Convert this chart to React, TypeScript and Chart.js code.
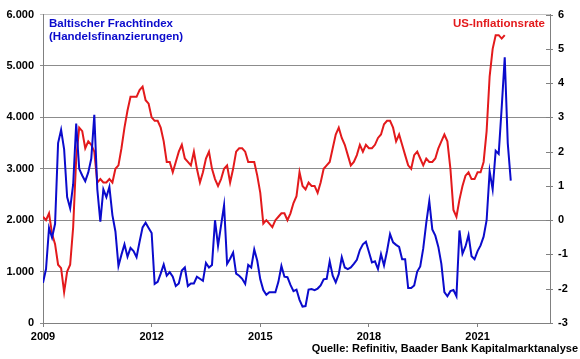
import React, { useEffect, useRef } from "react";
import { Chart, registerables } from "chart.js";

Chart.register(...registerables);

// Month index 0 = end of Dec 2008 (start of 2009), monthly steps
const START_YEAR = 2009;
const MONTH_SPAN = 168; // 2009 .. 2023
const yearTicks = [2009, 2012, 2015, 2018, 2021];

// Baltischer Frachtindex (left axis)
const bdi = [
  780, 1050, 1850, 1660, 1930, 3500, 3760, 3380, 2450, 2230,
  2700, 3880, 3000, 2870, 2760, 2930, 3200, 4050, 2600, 1970,
  2600, 2450, 2650, 2100, 1780, 1110, 1330, 1530, 1290, 1460,
  1400, 1280, 1580, 1860, 1950, 1850, 1750, 760, 800, 960,
  1140, 920, 990, 900, 720, 770, 1020, 1080, 720, 770,
  770, 900, 860, 820, 1170, 1080, 1130, 2000, 1500, 1900,
  2290, 1150, 1250, 1370, 960, 920, 860, 760, 1130, 1080,
  1430, 1210, 850, 640, 550, 600, 600, 600, 800, 1110,
  900, 890, 740, 620, 650, 450, 320, 330, 650, 660,
  640, 670, 730, 850, 860, 1200, 920, 790, 950, 1280,
  1080, 1050, 1080, 1150, 1230, 1420, 1530, 1580, 1380, 1180,
  1200, 1050, 1340, 1120, 1400, 1730, 1570, 1520, 1480, 1240,
  1240, 680, 680, 730, 1000, 1100, 1450, 1950, 2370, 1820,
  1700, 1480, 1150, 600, 520, 620, 640, 520, 1800, 1350,
  1490, 1710, 1300, 1240, 1400, 1510, 1680, 2000, 2950, 2600,
  3350, 3290, 4200, 5170, 3500, 2770,
];

// US-Inflationsrate (right axis, %)
const cpi = [
  0.1, 0.0, 0.2, -0.4, -0.7, -1.3, -1.4, -2.1, -1.5, -1.3, -0.2, 1.8, 2.7,
  2.6, 2.1, 2.3, 2.2, 2.0, 1.1, 1.2, 1.1, 1.1, 1.2, 1.1, 1.5,
  1.6, 2.1, 2.7, 3.2, 3.6, 3.6, 3.6, 3.8, 3.9, 3.5, 3.4, 3.0,
  2.9, 2.9, 2.7, 2.3, 1.7, 1.7, 1.4, 1.7, 2.0, 2.2, 1.8, 1.7,
  1.6, 2.0, 1.5, 1.1, 1.4, 1.8, 2.0, 1.5, 1.2, 1.0, 1.2, 1.5,
  1.6, 1.1, 1.5, 2.0, 2.1, 2.1, 2.0, 1.7, 1.7, 1.7, 1.3, 0.8,
  -0.1, 0.0, -0.1, -0.2, 0.0, 0.1, 0.2, 0.2, 0.0, 0.2, 0.5, 0.7,
  1.4, 1.0, 0.9, 1.1, 1.0, 1.0, 0.8, 1.1, 1.5, 1.6, 1.7, 2.1,
  2.5, 2.7, 2.4, 2.2, 1.9, 1.6, 1.7, 1.9, 2.2, 2.0, 2.2, 2.1,
  2.1, 2.2, 2.4, 2.5, 2.8, 2.9, 2.9, 2.7, 2.3, 2.5, 2.2, 1.9,
  1.6, 1.5, 1.9, 2.0, 1.8, 1.6, 1.8, 1.7, 1.7, 1.8, 2.1, 2.3,
  2.5, 2.3, 1.5, 0.3, 0.1, 0.6, 1.0, 1.3, 1.4, 1.2, 1.2, 1.4,
  1.4, 1.7, 2.6, 4.2, 5.0, 5.4, 5.4, 5.3, 5.4,
];

const BLUE = "#0b0bcc";
const RED = "#e31a1c";
const AXIS = "#808080";
const FONT = "Arial, 'Liberation Sans', sans-serif";

const fmtThousands = (v: number) =>
  String(Math.round(v)).replace(/\B(?=(\d{3})+(?!\d))/g, ".");

export default function App() {
  const ref = useRef<HTMLCanvasElement>(null);

  useEffect(() => {
    if (!ref.current) return;

    const textPlugin = {
      id: "texts",
      afterDraw(chart: any) {
        const { ctx, chartArea } = chart;
        ctx.save();
        // crossing tick marks on the right axis
        const s = chart.scales.y1;
        ctx.strokeStyle = AXIS;
        ctx.lineWidth = 1;
        ctx.beginPath();
        for (const t of s.ticks) {
          const py = Math.round(s.getPixelForValue(t.value)) + 0.5;
          ctx.moveTo(chartArea.right - 4, py);
          ctx.lineTo(chartArea.right + 3, py);
        }
        ctx.stroke();

        ctx.textBaseline = "middle";
        ctx.font = `bold 11.5px ${FONT}`;
        ctx.fillStyle = BLUE;
        ctx.textAlign = "left";
        ctx.fillText("Baltischer Frachtindex", chartArea.left + 6, chartArea.top + 9);
        ctx.fillText("(Handelsfinanzierungen)", chartArea.left + 6, chartArea.top + 22);
        ctx.fillStyle = RED;
        ctx.textAlign = "right";
        ctx.fillText("US-Inflationsrate", chartArea.right - 5, chartArea.top + 9);
        ctx.fillStyle = "#000";
        ctx.font = `bold 11px ${FONT}`;
        ctx.fillText(
          "Quelle: Refinitiv, Baader Bank Kapitalmarktanalyse",
          chart.width - 2,
          chart.height - 10
        );
        ctx.restore();
      },
    };

    const chart = new Chart(ref.current, {
      type: "line",
      data: {
        datasets: [
          {
            label: "Baltischer Frachtindex (Handelsfinanzierungen)",
            data: bdi.map((v, i) => ({ x: i, y: v })),
            yAxisID: "y",
            borderColor: BLUE,
            borderWidth: 2,
            pointRadius: 0,
            tension: 0,
          },
          {
            label: "US-Inflationsrate",
            data: cpi.map((v, i) => ({ x: i, y: v })),
            yAxisID: "y1",
            borderColor: RED,
            borderWidth: 2,
            pointRadius: 0,
            tension: 0,
          },
        ],
      },
      options: {
        animation: false,
        responsive: true,
        maintainAspectRatio: false,
        layout: { padding: { top: 10, left: 0, right: 0, bottom: 0 } },
        plugins: { legend: { display: false }, tooltip: { enabled: false } },
        scales: {
          x: {
            type: "linear",
            min: 0,
            max: MONTH_SPAN,
            afterBuildTicks: (s: any) => {
              s.ticks = yearTicks.map((y) => ({ value: (y - START_YEAR) * 12 }));
            },
            afterFit: (s: any) => {
              s.height = 36;
            },
            ticks: {
              callback: (v: any) => String(START_YEAR + Number(v) / 12),
              color: "#000",
              font: { family: FONT, size: 11, weight: "bold" },
              padding: 3,
              maxRotation: 0,
              autoSkip: false,
            },
            grid: { drawOnChartArea: false, drawTicks: true, tickLength: 4, color: AXIS },
            border: { display: true, color: AXIS, width: 1 },
          },
          y: {
            position: "left",
            min: 0,
            max: 6000,
            afterFit: (s: any) => {
              s.width = 43;
            },
            ticks: {
              stepSize: 1000,
              callback: (v: any) => fmtThousands(Number(v)),
              color: "#000",
              font: { family: FONT, size: 11, weight: "bold" },
              padding: 6,
            },
            grid: {
              drawTicks: true,
              tickLength: 3,
              color: (c: any) => (c.tick && c.tick.value === 6000 ? "#c4c4c4" : "#8c8c8c"),
              lineWidth: 1,
            },
            border: { display: true, color: AXIS, width: 1 },
          },
          y1: {
            position: "right",
            min: -3,
            max: 6,
            afterFit: (s: any) => {
              s.width = 30;
            },
            ticks: {
              stepSize: 1,
              color: "#000",
              font: { family: FONT, size: 11, weight: "bold" },
              padding: 8,
            },
            grid: { drawOnChartArea: false, drawTicks: false, color: AXIS },
            border: { display: true, color: AXIS, width: 1 },
          },
        },
      },
      plugins: [textPlugin],
    } as any);

    return () => chart.destroy();
  }, []);

  return (
    <div style={{ position: "fixed", left: 0, top: 0, width: 580, height: 359, background: "#fff" }}>
      <canvas ref={ref} />
    </div>
  );
}
